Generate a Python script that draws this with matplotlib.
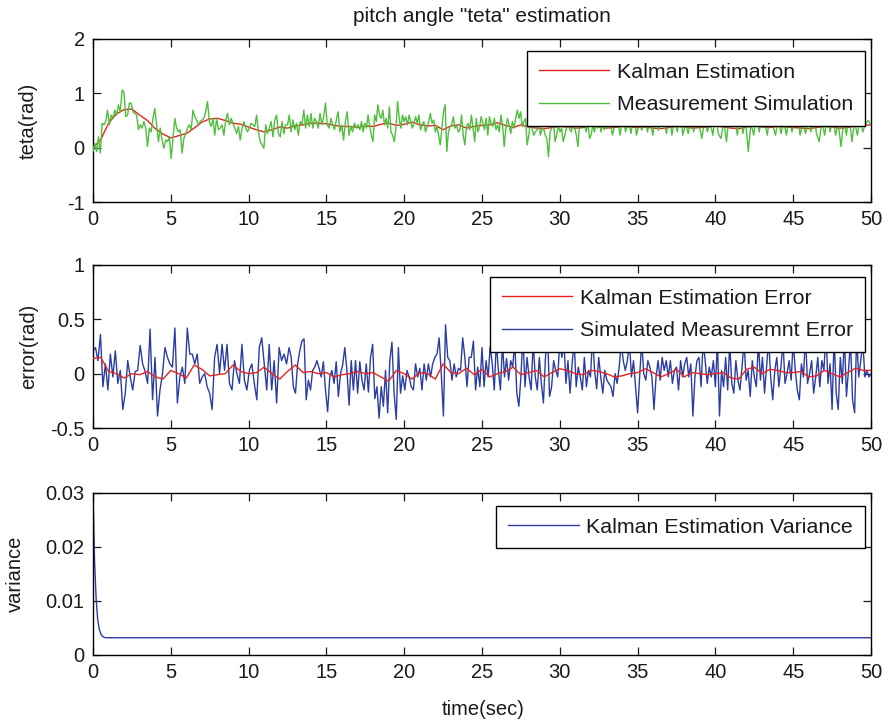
import numpy as np
import matplotlib
matplotlib.use("Agg")
import matplotlib.pyplot as plt

plt.rcParams['font.family'] = ['Liberation Sans', 'DejaVu Sans']
plt.rcParams['axes.unicode_minus'] = False

# ---------------- data ----------------
# Kalman estimation of pitch angle (rad), sampled every 0.5 s from 0 to 50 s
kalman_est = [0.00, 0.15, 0.45, 0.62, 0.70, 0.71, 0.60, 0.50, 0.35, 0.25,
              0.18, 0.22, 0.26, 0.36, 0.47, 0.53, 0.54, 0.50, 0.45, 0.43,
              0.38, 0.33, 0.29, 0.33, 0.38, 0.36, 0.40, 0.42, 0.45, 0.45,
              0.44, 0.41, 0.39, 0.39, 0.37,
              0.40, 0.39, 0.43, 0.45, 0.41, 0.43, 0.47, 0.42, 0.40, 0.41,
              0.33, 0.40, 0.42, 0.36, 0.39, 0.41, 0.42, 0.46, 0.41, 0.37, 0.42,
              0.38, 0.36, 0.35, 0.37, 0.39, 0.38, 0.36, 0.37, 0.40, 0.38,
              0.36, 0.37, 0.39, 0.38, 0.37, 0.38, 0.36, 0.35, 0.37, 0.39,
              0.38, 0.36, 0.37, 0.38, 0.40, 0.38, 0.36, 0.35, 0.38, 0.40,
              0.38, 0.37, 0.39, 0.38, 0.37, 0.36, 0.35, 0.37, 0.39, 0.38,
              0.36, 0.37, 0.40, 0.41, 0.42]

# Measurement simulation (rad), four consecutive time segments
meas_bounds = [0.0, 12.5, 17.15, 33.7, 50.0]
meas_a = [-0.07, 0.08, -0.07, 0.20, -0.10, 0.45, 0.42, 0.48, 0.69, 0.42,
          0.60, 0.54, 0.69, 0.60, 0.79, 0.66, 1.06, 1.03, 0.57, 0.60,
          0.82, 0.82, 0.66, 0.63, 0.60, 0.33, 0.42, 0.36, 0.48, 0.36,
          0.02, 0.36, 0.29, 0.54, 0.72, 0.42, 0.11, 0.36, 0.14, -0.01,
          0.14, 0.11, 0.20, -0.20, 0.17, 0.54, 0.36, 0.29, 0.33, -0.10,
          0.17, 0.26, 0.36, 0.42, 0.33, 0.69, 0.57, 0.51, 0.42, 0.48,
          0.51, 0.54, 0.66, 0.85, 0.48, 0.39, 0.54, 0.23, 0.54, 0.33,
          0.36, 0.42, 0.23, 0.51, 0.63, 0.42, 0.54, 0.45, 0.36, 0.26,
          0.39, 0.14, 0.36, 0.48, 0.36, 0.29, 0.36, 0.45, 0.42, 0.39,
          0.60, 0.29, 0.11, 0.05, -0.01, 0.42, 0.26, 0.36, 0.48, 0.20,
          0.51, 0.60, 0.26, 0.20, 0.48, 0.26, 0.42]
meas_b = [0.42, 0.60, 0.29, 0.51, 0.33, 0.45, 0.23, 0.48, 0.42, 0.69,
          0.36, 0.60, 0.39, 0.63, 0.36, 0.54, 0.48, 0.36, 0.63, 0.42,
          0.57, 0.82, 0.42, 0.36, 0.54, 0.42, 0.33, 0.51, 0.66, 0.29,
          0.42, 0.14, 0.48, 0.66, 0.23, 0.39, 0.29, 0.45, 0.36, 0.42]
meas_c = [0.33, 0.48, 0.29, 0.45, 0.36, 0.60, 0.39, 0.23, 0.11, 0.60,
          0.48, 0.79, 0.60, 0.54, 0.69, 0.42, 0.54, 0.36, 0.75, 0.29,
          0.23, 0.11, 0.36, 0.85, 0.54, 0.36, 0.60, 0.48, 0.57, 0.42,
          0.60, 0.48, 0.36, 0.45, 0.57, 0.45, 0.60, 0.33, 0.42, 0.48,
          0.29, 0.39, 0.48, 0.63, 0.45, 0.51, 0.29, 0.39, 0.23, 0.05,
          0.36, 0.66, 0.79, -0.07, 0.29, 0.39, 0.42, 0.57, 0.36, 0.42,
          0.29, 0.33, 0.60, 0.23, 0.05, 0.39, 0.45, 0.33, 0.60, 0.36,
          0.11, 0.54, 0.29, 0.39, 0.57, 0.45, 0.33, 0.54, 0.23, 0.57,
          0.45, 0.39, 0.54, 0.33, 0.42, 0.29, 0.60, 0.42, 0.02, 0.36,
          0.54, 0.42, 0.26, 0.48, 0.36, 0.54, 0.69, 0.54, 0.66, 0.39,
          0.48, 0.54, 0.05, 0.23, 0.48, 0.36, 0.23, 0.29, 0.33, 0.60,
          0.23, 0.33, 0.36, 0.23, 0.17, -0.17, 0.29, 0.36, 0.54, 0.11,
          0.23, 0.42, 0.29, 0.36, 0.11, 0.23, 0.36, 0.48, 0.33, 0.29,
          0.54, 0.36, 0.23, 0.02, 0.48, 0.36, 0.54, 0.42, 0.29, 0.48,
          0.17, 0.23, 0.42, 0.29, 0.42, 0.36, 0.48, 0.29, 0.42, 0.33,
          0.48, 0.36, 0.54, 0.42, 0.23, 0.36, 0.48]
meas_d = [0.55, 0.23, 0.60, 0.29, 0.50, 0.26, 0.65, 0.23, 0.45, 0.32,
          0.70, 0.29, 0.50, 0.23, 0.60, 0.32, 0.48, 0.55, 0.26, 0.62,
          0.23, 0.50, 0.29, 0.70, 0.23, 0.45, 0.26, 0.55, 0.29, 0.60,
          0.40, 0.17, 0.55, 0.29, 0.48, 0.23, 0.60, 0.26, 0.17, 0.50,
          0.11, 0.62, 0.45, 0.55, 0.23, 0.66, 0.26, 0.50, -0.07, 0.45,
          0.23, 0.60, 0.29, 0.55, 0.45, 0.23, 0.70, 0.40, 0.23, 0.55,
          0.26, 0.48, 0.23, 0.60, 0.29, 0.50, 0.62, 0.23, 0.45, 0.26,
          0.58, 0.29, 0.66, 0.26, 0.11, 0.50, 0.23, 0.60, 0.29, 0.55,
          0.23, 0.45, 0.02, 0.50, 0.23, 0.62, 0.11, 0.48, 0.23, 0.55,
          0.29, 0.45, 0.50, 0.42]

# Kalman estimation error (rad), every 0.5 s from 0 to 50 s
kalman_err = [0.14, 0.15, 0.02, 0.00, -0.04, 0.00, -0.01, 0.02, -0.03, -0.05,
              0.03, 0.00, -0.04, 0.08, 0.04, -0.02, -0.01, 0.00, 0.08, 0.02,
              0.00, 0.01, 0.06, 0.00, -0.05, 0.02, 0.08, 0.01, 0.02, 0.00,
              0.01, -0.03, -0.01, 0.00, 0.02, 0.00, 0.01, -0.03, -0.07, 0.03,
              0.00, -0.05, 0.01, 0.00, -0.05, 0.09, 0.01, 0.00, 0.05, -0.01,
              0.04, -0.03, 0.00, 0.02, 0.06, -0.01, 0.01, 0.03, -0.03, 0.01,
              0.045, 0.03, 0.00, -0.01, 0.03, 0.02, 0.00, -0.03, -0.02, 0.00,
              0.01, 0.045, 0.01, -0.03, 0.00, 0.04, -0.03, 0.01, 0.00, -0.01,
              0.00, 0.01, -0.04, -0.05, 0.04, 0.06, 0.00, 0.04, 0.03, 0.01,
              0.01, 0.02, -0.03, -0.02, 0.03, 0.00, -0.03, 0.01, 0.05, 0.03,
              0.03]

# Simulated measurement error (rad), four consecutive time segments
merr_bounds = [0.0, 12.6, 25.0, 37.5, 50.0]
merr_a = [0.21, 0.24, 0.12, 0.36, -0.12, 0.09, -0.15, 0.18, -0.03, 0.21,
          -0.09, 0.03, -0.33, -0.18, 0.12, -0.03, -0.15, 0.02, 0.03, 0.26,
          0.09, 0.02, -0.09, 0.41, -0.24, 0.15, -0.39, -0.15, 0.00, 0.24,
          0.15, 0.09, 0.06, 0.42, -0.27, -0.03, 0.06, -0.09, 0.42, 0.18,
          0.18, 0.09, 0.18, -0.09, -0.03, 0.00, -0.12, -0.18, -0.33, 0.15,
          0.27, 0.00, 0.27, 0.03, 0.27, -0.09, -0.15, 0.12, 0.00, -0.09,
          0.27, -0.06, -0.15, 0.03, 0.09, -0.09, -0.24, 0.24, 0.33, 0.09,
          -0.15, 0.27, -0.15, 0.12, -0.27, 0.24, 0.12, 0.18, 0.09]
merr_b = [0.24, 0.15, -0.12, -0.18, 0.09, 0.21, 0.30, 0.32, -0.24, -0.06,
          -0.15, 0.03, 0.06, 0.12, 0.05, -0.03, 0.11, -0.15, -0.35, -0.03,
          0.03, -0.09, 0.11, -0.21, 0.00, 0.08, 0.24, 0.03, -0.29, 0.12,
          -0.15, 0.12, -0.18, 0.11, -0.06, -0.15, 0.09, -0.17, 0.15, 0.27,
          -0.23, -0.12, -0.41, -0.12, -0.30, 0.03, -0.36, 0.12, 0.29, -0.18,
          -0.42, 0.24, -0.18, -0.02, -0.15, 0.03, -0.03, -0.12, -0.15, 0.09,
          -0.03, 0.05, -0.15, 0.09, -0.06, 0.09, -0.03, 0.09, 0.15, 0.18,
          0.33, 0.00, -0.39, 0.45, 0.15, 0.12, -0.06, 0.09, -0.03, 0.05,
          0.03, 0.33, 0.15, -0.12, 0.15, 0.15, 0.30, -0.15, 0.06, -0.12]
merr_c = [0.24, -0.12, 0.12, -0.03, 0.25, 0.09, -0.15, 0.30, 0.03, -0.15,
          0.28, -0.03, 0.14, -0.06, 0.12, 0.06, 0.30, -0.18, -0.30, -0.03,
          0.35, -0.12, 0.15, -0.03, -0.15, 0.30, -0.03, -0.15, 0.15, -0.09,
          -0.27, 0.15, 0.38, -0.21, -0.12, 0.12, 0.03, -0.03, 0.30, 0.15,
          0.30, -0.09, 0.12, -0.18, 0.09, 0.30, -0.12, 0.06, -0.03, -0.15,
          0.15, -0.12, 0.03, -0.03, 0.35, 0.03, -0.14, 0.15, -0.03, -0.18,
          0.03, -0.06, -0.09, -0.12, -0.21, 0.00, -0.09, 0.06, 0.28, 0.12,
          0.03, 0.12, 0.30, -0.03, 0.12, -0.12, -0.36, -0.03, 0.30, 0.00,
          -0.06, 0.12, 0.06, -0.03, -0.33, -0.03, 0.12, -0.06, 0.15, 0.03,
          0.12, -0.03, 0.12, -0.09, 0.03]
merr_d = [0.06, -0.15, 0.12, -0.03, 0.09, 0.15, -0.03, 0.09, -0.39, -0.03,
          0.12, 0.15, -0.12, 0.30, 0.12, -0.09, 0.06, -0.03, 0.12, -0.12,
          0.30, -0.39, 0.03, -0.12, 0.15, -0.15, 0.28, -0.09, -0.18, 0.12,
          -0.06, -0.15, 0.06, 0.30, -0.06, 0.03, -0.21, 0.12, -0.03, -0.12,
          0.30, -0.06, 0.15, -0.18, 0.06, 0.32, -0.03, -0.24, 0.03, 0.15,
          -0.12, 0.06, 0.30, -0.09, 0.00, 0.12, -0.06, 0.30, 0.03, -0.15,
          -0.24, 0.09, -0.03, 0.35, -0.09, 0.00, 0.12, -0.18, -0.03, 0.15,
          -0.12, 0.12, 0.03, 0.38, -0.09, 0.09, -0.33, 0.35, -0.18, -0.33,
          0.15, -0.09, 0.35, -0.21, 0.03, 0.30, -0.24, -0.36, 0.35, -0.03,
          0.12, 0.30, -0.03, 0.03, -0.03, 0.00]

# Kalman estimation variance
var_time = [0.0, 0.1, 0.2, 0.3, 0.4, 0.5, 0.6, 0.7, 0.8, 0.9, 1.0, 50.0]
var_vals = [0.030, 0.0175, 0.0105, 0.0066, 0.0048, 0.0039, 0.0035, 0.0033,
            0.0032, 0.0032, 0.0032, 0.0032]

x_ticks = list(range(0, 51, 5))
top_yticks = [-1, 0, 1, 2]
mid_yticks = [-0.5, 0, 0.5, 1]
mid_ylabels = ['-0.5', '0', '0.5', '1']
bot_yticks = [0, 0.01, 0.02, 0.03]
bot_ylabels = ['0', '0.01', '0.02', '0.03']


def segments(bounds, parts):
    ts, vs = [], []
    for i, p in enumerate(parts):
        last = (i == len(parts) - 1)
        ts.append(np.linspace(bounds[i], bounds[i + 1], len(p), endpoint=last))
        vs.append(np.asarray(p, dtype=float))
    return np.concatenate(ts), np.concatenate(vs)


t_half = np.linspace(0, 50, len(kalman_est))
t_meas, meas = segments(meas_bounds, [meas_a, meas_b, meas_c, meas_d])
t_kerr = np.linspace(0, 50, len(kalman_err))
t_merr, merr = segments(merr_bounds, [merr_a, merr_b, merr_c, merr_d])

RED = '#e8231c'
GREEN = '#4fbf3d'
BLUE = '#2b3da3'
TXT = '#1a1a1a'
FS = 14.5
LFS = 15.4

fig = plt.figure(figsize=(8.92, 7.25), dpi=100)
L, W = 93 / 892, 778 / 892
ax1 = fig.add_axes([L, 1 - 202 / 725, W, 163 / 725])
ax2 = fig.add_axes([L, 1 - 428 / 725, W, 163 / 725])
ax3 = fig.add_axes([L, 1 - 655 / 725, W, 162 / 725])


def style(ax):
    ax.set_xlim(0, 50)
    ax.set_xticks(x_ticks)
    ax.tick_params(direction='in', top=True, right=True, length=5.5,
                   width=0.9, labelsize=FS, colors=TXT, pad=6)
    for s in ax.spines.values():
        s.set_linewidth(1.0)
        s.set_color('black')


def legend(ax, y):
    leg = ax.legend(loc='upper right', bbox_to_anchor=(0.992, y),
                    borderaxespad=0, fontsize=LFS, handlelength=3.3,
                    handletextpad=0.35, borderpad=0.55, labelspacing=0.62,
                    frameon=True, fancybox=False, framealpha=1,
                    edgecolor='black')
    leg.get_frame().set_linewidth(1.0)
    for t in leg.get_texts():
        t.set_color(TXT)
    return leg


# top
ax1.plot(t_half, kalman_est, color=RED, lw=1.0, label='Kalman Estimation', zorder=2)
ax1.plot(t_meas, meas, color=GREEN, lw=1.0, label='Measurement Simulation', zorder=3)
style(ax1)
ax1.set_ylim(-1, 2)
ax1.set_yticks(top_yticks)
ax1.set_ylabel('teta(rad)', fontsize=FS, color=TXT)
ax1.yaxis.set_label_coords(-0.0707, 0.5)
ax1.set_title('pitch angle "teta" estimation', fontsize=15, color=TXT, pad=12)
legend(ax1, 0.926)

# middle
ax2.plot(t_kerr, kalman_err, color=RED, lw=1.0, label='Kalman Estimation Error', zorder=3)
ax2.plot(t_merr, merr, color=BLUE, lw=1.0, label='Simulated Measuremnt Error', zorder=2)
style(ax2)
ax2.set_ylim(-0.5, 1)
ax2.set_yticks(mid_yticks)
ax2.set_yticklabels(mid_ylabels)
ax2.set_ylabel('error(rad)', fontsize=FS, color=TXT)
ax2.yaxis.set_label_coords(-0.0707, 0.5)
legend(ax2, 0.926)

# bottom
ax3.plot(var_time, var_vals, color=BLUE, lw=1.0, label='Kalman Estimation Variance')
style(ax3)
ax3.set_ylim(0, 0.03)
ax3.set_yticks(bot_yticks)
ax3.set_yticklabels(bot_ylabels)
ax3.set_ylabel('variance', fontsize=FS, color=TXT)
ax3.yaxis.set_label_coords(-0.088, 0.5)
ax3.set_xlabel('time(sec)', fontsize=FS, color=TXT)
ax3.xaxis.set_label_coords(0.501, -0.275)
legend(ax3, 0.92)

fig.savefig('out.png', dpi=100)
